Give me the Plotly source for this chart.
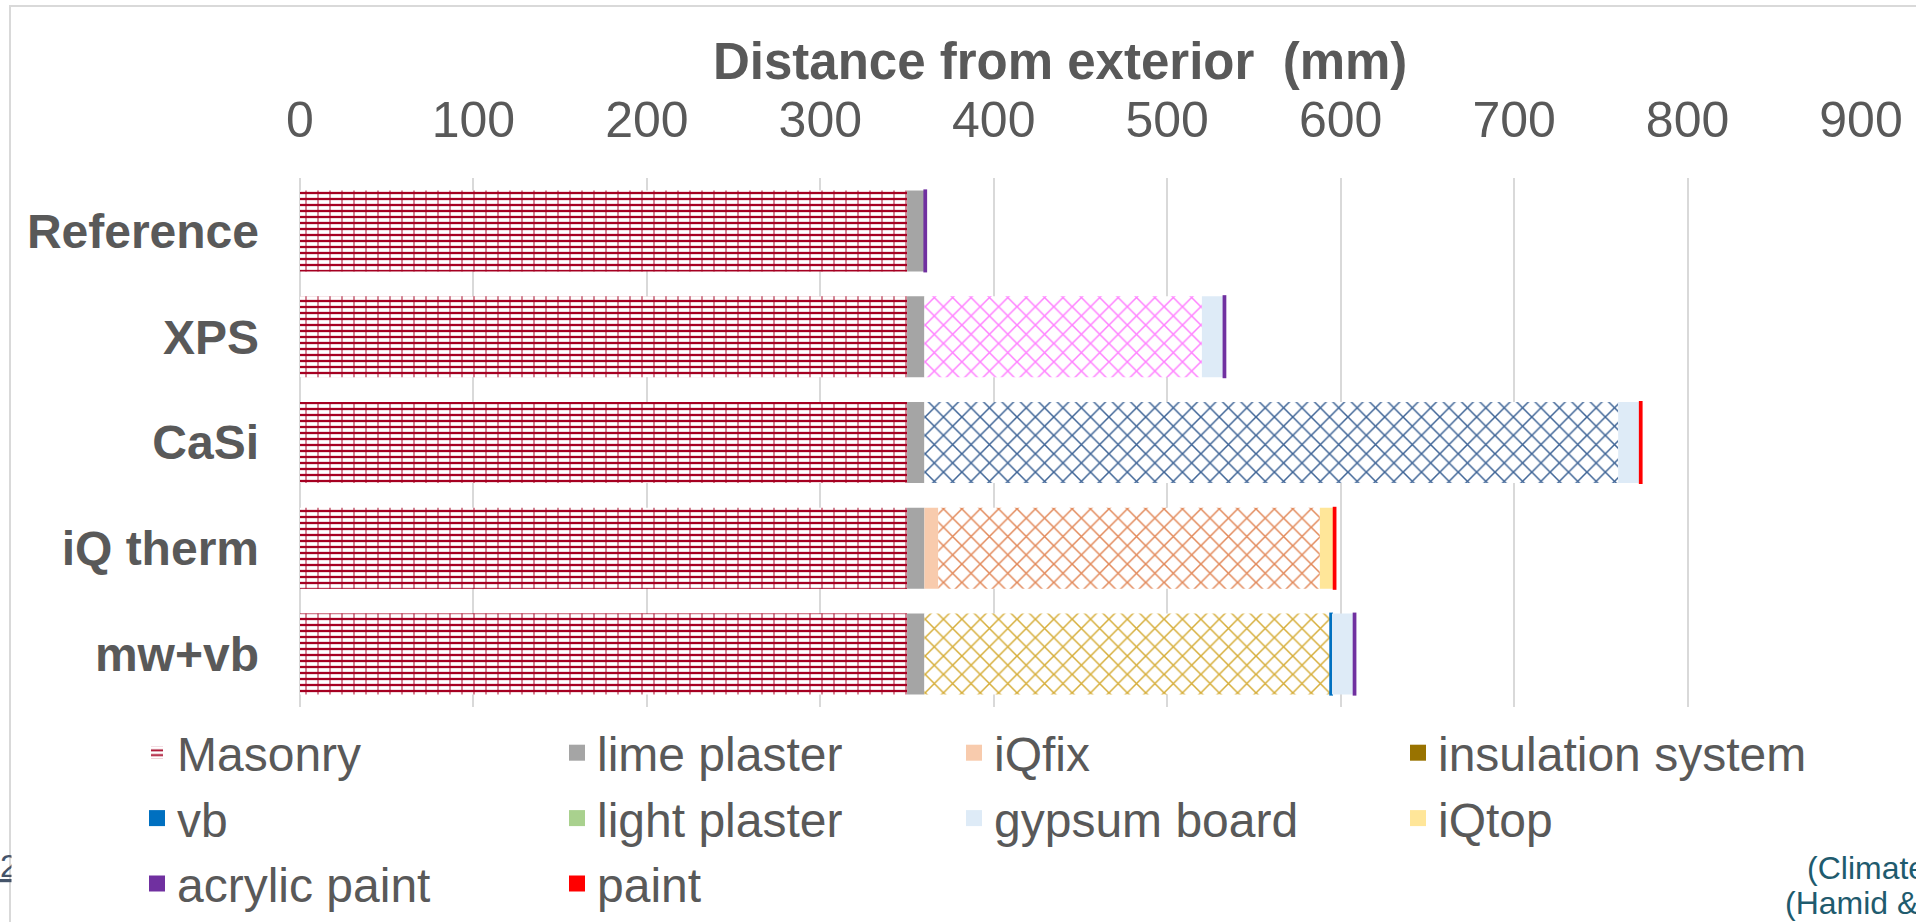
import numpy as np
import plotly.graph_objects as go

# Wall build-ups, listed top to bottom
categories = ["Reference", "XPS", "CaSi", "iQ therm", "mw+vb"]

# Layer thicknesses in mm, from the exterior inwards (None = layer absent)
masonry = [350, 350, 350, 350, 350]
lime_plaster = [10, 10, 10, 10, 10]
iqfix = [None, None, None, 8, None]
insulation_system = [None, 160, 400, 220, 234]
vb = [None, None, None, None, 1]
light_plaster = [None, None, None, None, None]
gypsum_board = [None, 12.5, 12.5, None, 12.5]
iqtop = [None, None, None, 8, None]
acrylic_paint = [1, 1, None, None, 1]
paint = [None, None, 1, 1, None]

x_ticks = [0, 100, 200, 300, 400, 500, 600, 700, 800, 900]

# Colours of the insulation material in each build-up
insulation_colors = ["#FFFFFF", "#FF80FF", "#3E6496", "#E2895A", "#D6AE3A"]

FONT = "Liberation Sans, Arial, sans-serif"
TXT = "#595959"
W, H = 1916, 922
PL, PR, PT, PB = 300, 1861, 178, 707


def px_x(px):
    return (px - PL) / (PR - PL)


def px_y(py):
    return (PB - py) / (PB - PT)


layers = [
    ("Masonry", masonry),
    ("lime plaster", lime_plaster),
    ("iQfix", iqfix),
    ("insulation system", insulation_system),
    ("vb", vb),
    ("light plaster", light_plaster),
    ("gypsum board", gypsum_board),
    ("iQtop", iqtop),
    ("acrylic paint", acrylic_paint),
    ("paint", paint),
]

solid_colors = {
    "lime plaster": "#A5A5A5",
    "iQfix": "#F8CBAD",
    "insulation system": "#997300",
    "vb": "#0070C0",
    "light plaster": "#A9D18E",
    "gypsum board": "#DEEBF7",
    "iQtop": "#FFE699",
    "acrylic paint": "#7030A0",
    "paint": "#FF0000",
}
thin_layers = {"vb", "acrylic paint", "paint"}

legend_of = {
    "Masonry": "legend", "vb": "legend", "acrylic paint": "legend",
    "lime plaster": "legend2", "light plaster": "legend2", "paint": "legend2",
    "iQfix": "legend3", "gypsum board": "legend3",
    "insulation system": "legend4", "iQtop": "legend4",
}

fig = go.Figure()
cum = np.zeros(len(categories))
for name, vals in layers:
    arr = np.array([v if v is not None else 0.0 for v in vals], dtype=float)
    base = cum.copy()
    cum = cum + arr
    xs = [v if v else None for v in vals]
    common = dict(y=categories, x=xs, base=base, orientation="h", name=name,
                  hoverinfo="skip")
    if name == "Masonry":
        # brick texture: horizontal courses plus vertical joints
        fig.add_trace(go.Bar(
            **common, legend=legend_of[name],
            marker=dict(color="#FFFFFF", line=dict(width=0),
                        pattern=dict(shape="-", fgcolor="#A50021", bgcolor="#FFFFFF",
                                     size=6, solidity=0.38, fillmode="replace")),
        ))
        fig.add_trace(go.Bar(
            **{**common, "name": "Masonry joints"}, showlegend=False,
            marker=dict(color="rgba(0,0,0,0)", line=dict(width=0),
                        pattern=dict(shape="|", fgcolor="#A50021", bgcolor="rgba(0,0,0,0)",
                                     size=12, solidity=0.16, fillmode="overlay")),
        ))
        continue
    if name == "insulation system":
        fig.add_trace(go.Bar(
            **common, showlegend=False,
            marker=dict(color="#FFFFFF", line=dict(width=0),
                        pattern=dict(shape="x", fgcolor=insulation_colors, bgcolor="#FFFFFF",
                                     size=13, solidity=0.22, fillmode="replace")),
        ))
    else:
        lw = 2 if name in thin_layers else 0
        fig.add_trace(go.Bar(
            **common, showlegend=False,
            marker=dict(color=solid_colors[name],
                        line=dict(width=lw, color=solid_colors[name])),
        ))
    # legend key drawn as a larger square
    fig.add_trace(go.Scatter(
        x=[None], y=[categories[0]], mode="markers", name=name,
        legend=legend_of[name], hoverinfo="skip",
        marker=dict(symbol="square", size=16, color=solid_colors[name],
                    line=dict(width=0)),
    ))

legend_style = dict(orientation="v", xanchor="left", yanchor="top",
                    bgcolor="rgba(0,0,0,0)", borderwidth=0, itemwidth=30,
                    itemsizing="trace",
                    tracegroupgap=0, traceorder="normal",
                    font=dict(family=FONT, size=48, color=TXT))
legend_top = px_y(715)

fig.update_layout(
    width=W, height=H,
    margin=dict(l=PL, r=W - PR, t=PT, b=H - PB, pad=0, autoexpand=False),
    paper_bgcolor="white", plot_bgcolor="white",
    barmode="overlay", bargap=0.234,
    font=dict(family=FONT, color=TXT),
    legend=dict(**legend_style, x=px_x(137), y=legend_top),
    legend2=dict(**legend_style, x=px_x(557), y=legend_top),
    legend3=dict(**legend_style, x=px_x(954), y=legend_top),
    legend4=dict(**legend_style, x=px_x(1398), y=legend_top),
    xaxis=dict(
        range=[0, 900], side="top", tickvals=x_ticks, ticks="",
        tickfont=dict(family=FONT, size=50, color=TXT),
        ticklabelstandoff=30,
        showgrid=True, gridcolor="#D9D9D9", gridwidth=2,
        zeroline=True, zerolinecolor="#D9D9D9", zerolinewidth=2,
        showline=False, fixedrange=True, automargin=False,
    ),
    yaxis=dict(
        categoryorder="array", categoryarray=categories, autorange="reversed",
        ticks="", ticklabelstandoff=40,
        tickfont=dict(family=FONT, size=48, color=TXT, weight="bold"),
        showgrid=False, zeroline=False, showline=False, fixedrange=True,
        automargin=False,
    ),
    shapes=[
        dict(type="rect", xref="paper", yref="paper",
             x0=px_x(10), x1=px_x(2100), y0=px_y(6), y1=px_y(1100),
             line=dict(color="#D9D9D9", width=2), fillcolor="rgba(0,0,0,0)",
             layer="below"),
    ],
    annotations=[
        dict(text="<b>Distance from exterior \u00a0(mm)</b>", xref="paper", yref="paper",
             x=px_x(1060), y=px_y(61), xanchor="center", yanchor="middle", showarrow=False,
             font=dict(family=FONT, size=51, color=TXT)),
        dict(text="(Climate", xref="paper", yref="paper",
             x=px_x(1805), y=px_y(868), xanchor="left", yanchor="middle", showarrow=False,
             font=dict(family=FONT, size=32, color="#1F5B6E")),
        dict(text="(Hamid &", xref="paper", yref="paper",
             x=px_x(1783), y=px_y(903), xanchor="left", yanchor="middle", showarrow=False,
             font=dict(family=FONT, size=32, color="#1F5B6E")),
        dict(text="<span style='text-decoration:underline'>2</span>", xref="paper", yref="paper",
             x=px_x(-2), y=px_y(866), xanchor="left", yanchor="middle", showarrow=False,
             font=dict(family=FONT, size=32, color="#44546A")),
        dict(text=" ", xref="paper", yref="paper", width=40, height=50,
             x=px_x(11), y=px_y(866), xanchor="left", yanchor="middle", showarrow=False,
             bgcolor="white", borderpad=0, font=dict(size=10)),
    ],
)

fig.write_html("out.html")
